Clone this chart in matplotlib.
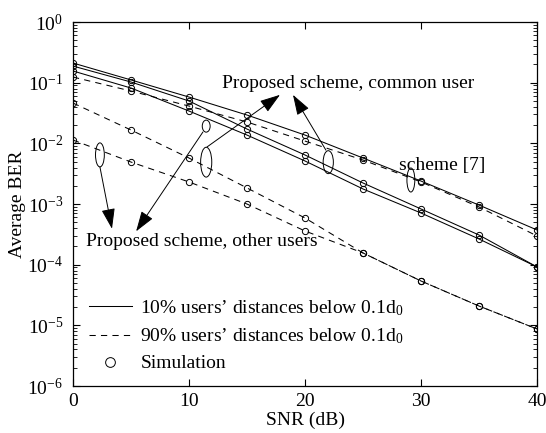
import matplotlib.pyplot as plt
from matplotlib.patches import Ellipse
from matplotlib.lines import Line2D

plt.rcParams['font.family'] = ['Liberation Serif', 'DejaVu Serif']
plt.rcParams['mathtext.fontset'] = 'custom'
plt.rcParams['mathtext.rm'] = 'Liberation Serif'
plt.rcParams['mathtext.it'] = 'Liberation Serif:italic'
plt.rcParams['font.size'] = 14

# SNR grid and BER curves
snr = [0, 5, 10, 15, 20, 25, 30, 35, 40]
scheme7_10 = [0.211, 0.111, 0.058, 0.0293, 0.0137, 0.00573, 0.00239, 9.6e-4, 3.73e-4]
scheme7_90 = [0.124, 0.0729, 0.0412, 0.0225, 0.0109, 0.00531, 0.00231, 8.93e-4, 2.97e-4]
common_10a = [0.188, 0.1026, 0.0499, 0.0172, 0.00643, 0.00222, 8.28e-4, 3.08e-4, 9.16e-5]
common_10b = [0.156, 0.0817, 0.0341, 0.0137, 0.00512, 0.00177, 7.11e-4, 2.65e-4, 9.16e-5]
other_90a = [0.0462, 0.0166, 0.00573, 0.00184, 5.88e-4, 1.56e-4, 5.38e-5, 2.08e-5, 8.7e-6]
other_90b = [0.01135, 0.00492, 0.00231, 1.0e-3, 3.59e-4, 1.56e-4, 5.38e-5, 2.08e-5, 8.7e-6]

curves = [
    (scheme7_10, '-'),
    (scheme7_90, '--'),
    (common_10a, '-'),
    (common_10b, '-'),
    (other_90a, '--'),
    (other_90b, '--'),
]

fig = plt.figure(figsize=(5.46, 4.33), dpi=100)
ax = fig.add_axes([0.1337, 0.1085, 0.85, 0.8406])

for vals, ls in curves:
    line, = ax.plot(snr, vals, ls, color='k', lw=0.75)
    if ls == '--':
        line.set_dashes([6, 5])
    ax.plot(snr, vals, 'o', mfc='none', mec='k', ms=4.5, mew=0.7)

ax.set_yscale('log')
ax.set_xlim(0, 40)
ax.set_ylim(1e-6, 1)
ax.set_xticks([0, 10, 20, 30, 40])
ax.set_xlabel('SNR (dB)', labelpad=1)
ax.set_ylabel('Average BER', labelpad=1)
ax.tick_params(which='both', direction='in', top=True, right=True)
ax.tick_params(which='major', length=5, width=0.8)
ax.tick_params(axis='y', which='major', pad=7)
ax.tick_params(axis='x', which='major', pad=5)
ax.tick_params(which='minor', length=3, width=0.6)
for s in ax.spines.values():
    s.set_linewidth(0.9)

# ellipses marking curve groups (axes fraction coords)
ellipses = [(0.058, 0.635, 0.019, 0.066), (0.287, 0.714, 0.017, 0.033),
            (0.287, 0.615, 0.024, 0.082), (0.550, 0.615, 0.022, 0.063),
            (0.728, 0.566, 0.017, 0.066)]
for cx, cy, w, h in ellipses:
    ax.add_patch(Ellipse((cx, cy), w, h, transform=ax.transAxes,
                         fill=False, lw=0.7, ec='k'))

arrow = dict(arrowstyle='-|>,head_length=0.9,head_width=0.3', color='k', lw=0.7,
             shrinkA=0, shrinkB=0)
ax.text(0.322, 0.83, 'Proposed scheme, common user', transform=ax.transAxes,
        va='center', ha='left')
ax.annotate('', xy=(0.446, 0.800), xytext=(0.289, 0.657),
            xycoords='axes fraction', textcoords='axes fraction', arrowprops=arrow)
ax.annotate('', xy=(0.474, 0.800), xytext=(0.545, 0.648),
            xycoords='axes fraction', textcoords='axes fraction', arrowprops=arrow)

ax.text(0.028, 0.398, 'Proposed scheme, other users', transform=ax.transAxes,
        va='center', ha='left')
ax.annotate('', xy=(0.084, 0.432), xytext=(0.058, 0.602),
            xycoords='axes fraction', textcoords='axes fraction', arrowprops=arrow)
ax.annotate('', xy=(0.136, 0.425), xytext=(0.280, 0.698),
            xycoords='axes fraction', textcoords='axes fraction', arrowprops=arrow)

ax.text(0.703, 0.607, 'scheme [7]', transform=ax.transAxes, va='center', ha='left')

handles = [
    Line2D([], [], color='k', lw=0.75, ls='-'),
    Line2D([], [], color='k', lw=0.75, ls=(0, (6, 5))),
    Line2D([], [], color='k', ls='none', marker='o', mfc='none', mew=0.7, ms=7),
]
labels = ["10% users\u2019 distances below 0.1d$_\\mathregular{0}$",
          "90% users\u2019 distances below 0.1d$_\\mathregular{0}$",
          'Simulation']
ax.legend(handles, labels, loc='lower left', bbox_to_anchor=(0.005, 0.0),
          frameon=False, handlelength=2.2, handletextpad=0.45, labelspacing=0.45,
          borderpad=0.2)

fig.savefig('out.png', dpi=100)
